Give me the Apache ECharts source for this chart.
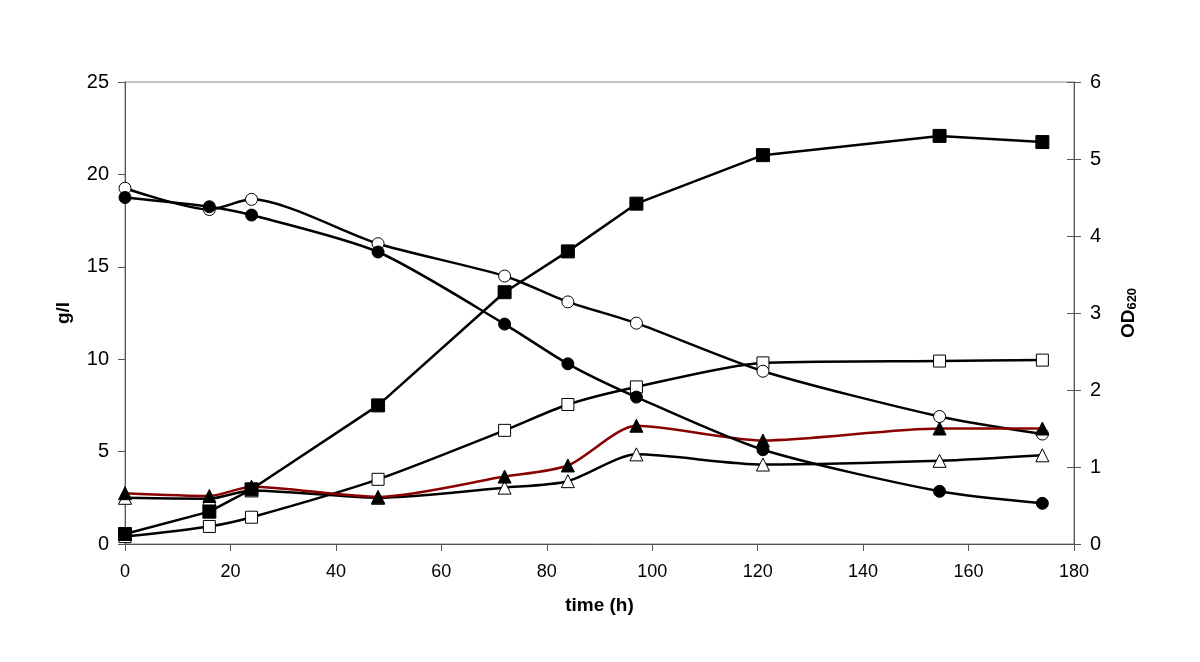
<!DOCTYPE html>
<html>
<head>
<meta charset="utf-8">
<script src="https://cdn.jsdelivr.net/npm/echarts@6/dist/echarts.min.js"></script>
<style>html,body{margin:0;padding:0;background:#fff}#c{width:1200px;height:662px}</style>
</head>
<body>
<div id="c"></div>
<script>
const times = [0, 16, 24, 48, 72, 84, 97, 121, 154.5, 174];
const openCircles = [19.25, 18.1, 18.65, 16.25, 14.5, 13.1, 11.95, 9.35, 6.9, 5.95];
const filledCircles = [18.75, 18.25, 17.8, 15.8, 11.9, 9.75, 7.95, 5.1, 2.85, 2.2];
const openSquares = [0.4, 0.95, 1.45, 3.5, 6.15, 7.55, 8.5, 9.8, 9.9, 9.95];
const filledTriangles = [2.75, 2.6, 3.1, 2.55, 3.65, 4.25, 6.4, 5.6, 6.25, 6.25];
const openTriangles = [2.5, 2.45, 2.9, 2.5, 3.05, 3.4, 4.85, 4.3, 4.5, 4.8];
const odFilledSquares = [0.13, 0.42, 0.71, 1.8, 3.27, 3.8, 4.42, 5.05, 5.3, 5.22];
const xTicks = [0, 20, 40, 60, 80, 100, 120, 140, 160, 180];

const pts = arr => times.map((t, i) => [t, arr[i]]);
const font = '"Liberation Sans", Arial, sans-serif';

function mk(name, data, opts) {
  return Object.assign({
    name, type: 'line', data: pts(data), clip: false,
    lineStyle: { color: '#000', width: 2.5 },
    itemStyle: { color: '#000', borderColor: '#000', borderWidth: 1 },
    symbolSize: 12, smooth: 0.25, yAxisIndex: 0, z: 3
  }, opts);
}

const chart = echarts.init(document.getElementById('c'));
chart.setOption({
  animation: false,
  backgroundColor: '#fff',
  grid: { left: 125, right: 126, top: 82, bottom: 118, show: true, borderColor: '#888', borderWidth: 1 },
  xAxis: {
    type: 'value', min: 0, max: 180, interval: 20,
    name: 'time (h)', nameLocation: 'middle', nameGap: 52,
    nameTextStyle: { fontFamily: font, fontSize: 19, fontWeight: 'bold', color: '#000' },
    axisLine: { lineStyle: { color: '#555', width: 1 } },
    axisTick: { show: true, length: 7, lineStyle: { color: '#555' } },
    axisLabel: { fontFamily: font, fontSize: 18, color: '#000', margin: 19,
      formatter: v => xTicks.includes(v) ? String(v) : '' },
    splitLine: { show: false }
  },
  yAxis: [
    {
      type: 'value', min: 0, max: 25, interval: 5, position: 'left',
      name: 'g/l', nameLocation: 'middle', nameGap: 52, nameRotate: 90,
      nameTextStyle: { fontFamily: font, fontSize: 19, fontWeight: 'bold', color: '#000' },
      axisLine: { show: true, lineStyle: { color: '#555', width: 1 } },
      axisTick: { show: true, length: 7, lineStyle: { color: '#555' } },
      axisLabel: { fontFamily: font, fontSize: 20, color: '#000', margin: 16 },
      splitLine: { show: false }
    },
    {
      type: 'value', min: 0, max: 6, interval: 1, position: 'right',
      name: '{a|OD}{b|620}', nameLocation: 'middle', nameGap: 44, nameRotate: 90,
      nameTextStyle: { rich: {
        a: { fontFamily: font, fontSize: 19, fontWeight: 'bold', color: '#000' },
        b: { fontFamily: font, fontSize: 13, fontWeight: 'bold', color: '#000', padding: [8, 0, 0, 0] }
      } },
      axisLine: { show: true, lineStyle: { color: '#555', width: 1 } },
      axisTick: { show: true, length: 7, lineStyle: { color: '#555' } },
      axisLabel: { fontFamily: font, fontSize: 20, color: '#000', margin: 16 },
      splitLine: { show: false }
    },
    {
      type: 'value', min: 0, max: 6, interval: 1, position: 'right',
      axisLine: { show: false },
      axisTick: { show: true, inside: true, length: 7, lineStyle: { color: '#555' } },
      axisLabel: { show: false },
      splitLine: { show: false }
    }
  ],
  series: [
    mk('open squares', openSquares, { symbol: 'rect', itemStyle: { color: '#fff', borderColor: '#000', borderWidth: 1 } }),
    mk('open triangles', openTriangles, { symbol: 'triangle', symbolSize: 13, itemStyle: { color: '#fff', borderColor: '#000', borderWidth: 1 } }),
    mk('filled triangles', filledTriangles, { symbol: 'triangle', symbolSize: 13, lineStyle: { color: '#8B0000', width: 2.5 }, itemStyle: { color: '#000', borderColor: '#000' }, z: 4 }),
    mk('open circles', openCircles, { symbol: 'circle', itemStyle: { color: '#fff', borderColor: '#000', borderWidth: 1 } }),
    mk('filled circles', filledCircles, { symbol: 'circle', z: 4 }),
    mk('OD', odFilledSquares, { symbol: 'rect', symbolSize: 13, smooth: false, yAxisIndex: 1, z: 5 })
  ]
});
</script>
</body>
</html>
